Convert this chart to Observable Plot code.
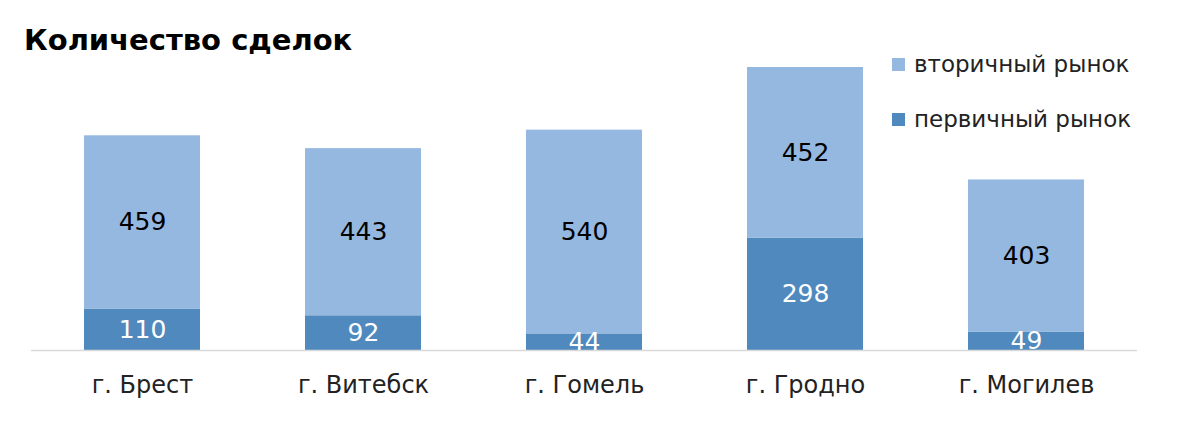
<!DOCTYPE html>
<html>
<head>
<meta charset="utf-8">
<script src="https://cdn.jsdelivr.net/npm/d3@7"></script>
<script src="https://cdn.jsdelivr.net/npm/@observablehq/plot@0.6"></script>
<style>
  body { margin: 0; background: #fff; font-family: "DejaVu Sans", sans-serif; }
  #wrap { position: relative; width: 1200px; height: 428px; }
  #title { position: absolute; left: 24px; top: 23px; font-size: 29px; font-weight: 700; color: #000; z-index: 2; }
  .leg { position: absolute; left: 892px; font-size: 23px; color: #222; display: flex; align-items: center; z-index: 2; }
  .leg span.sw { width: 13px; height: 13px; display: inline-block; margin-right: 9px; }
</style>
</head>
<body>
<div id="wrap">
  <div id="title">Количество сделок</div>
  <div class="leg" style="top:51px"><span class="sw" style="background:#95b8e0"></span>вторичный рынок</div>
  <div class="leg" style="top:106px"><span class="sw" style="background:#4f89bd"></span>первичный рынок</div>
</div>
<script>
// города
const cities = ["г. Брест", "г. Витебск", "г. Гомель", "г. Гродно", "г. Могилев"];
// первичный рынок
const primary = [110, 92, 44, 298, 49];
// вторичный рынок
const secondary = [459, 443, 540, 452, 403];

const series = ["первичный рынок", "вторичный рынок"];
const data = cities.flatMap((c, i) => [
  {city: c, series: series[0], value: primary[i]},
  {city: c, series: series[1], value: secondary[i]}
]);

const chart = Plot.plot({
  width: 1200,
  height: 428,
  marginTop: 67,
  marginBottom: 78,
  marginLeft: 31,
  marginRight: 63,
  style: {fontFamily: "'DejaVu Sans', sans-serif", background: "transparent"},
  x: {domain: cities, paddingInner: 0.475, paddingOuter: 0.2375, label: null},
  y: {domain: [0, 750], axis: null},
  color: {domain: series, range: ["#4f89bd", "#95b8e0"]},
  marks: [
    Plot.barY(data, {x: "city", y: "value", fill: "series", order: series}),
    Plot.ruleY([0], {stroke: "#d9d9d9", strokeWidth: 1.5}),
    Plot.text(data, Plot.stackY({
      x: "city", y: "value", z: "series", order: series,
      text: "value",
      fill: d => d.series === series[0] ? "#fff" : "#000",
      fontSize: 25
    })),
    Plot.axisX({tickSize: 0, tickPadding: 25, fontSize: 24, fill: "#222", label: null})
  ]
});
chart.style.position = "absolute";
chart.style.left = "0";
chart.style.top = "0";
document.getElementById("wrap").prepend(chart);
</script>
</body>
</html>
